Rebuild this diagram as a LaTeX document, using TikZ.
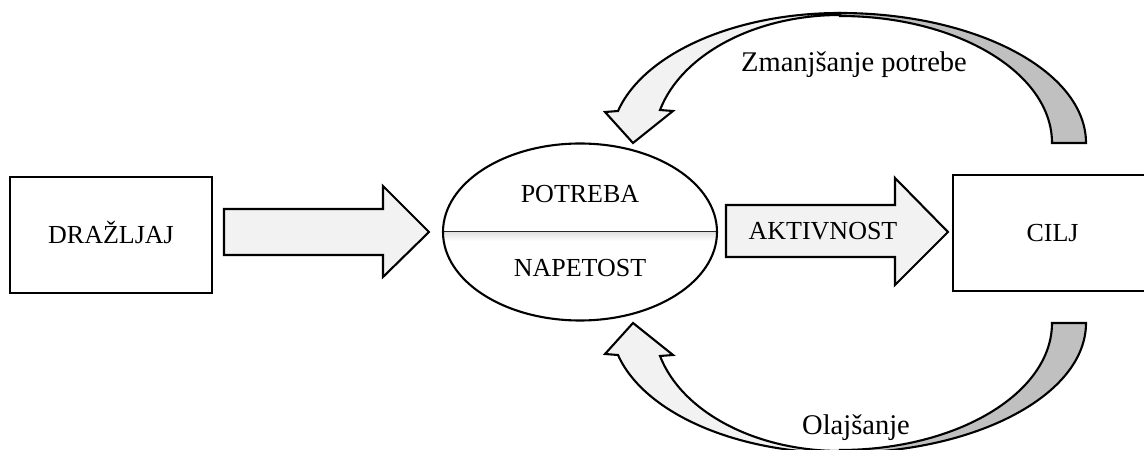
\documentclass[tikz,border=0pt]{standalone}
\usepackage{fontspec}
\setmainfont{Liberation Serif}
\usetikzlibrary{shapes.geometric}
\definecolor{lightfill}{RGB}{242,242,242}
\definecolor{darkfill}{RGB}{192,192,192}
\tikzset{
  outl/.style={draw=black, line width=2.1pt, line join=miter},
  boxnode/.style={outl, rectangle, inner sep=0pt, font=\fontsize{26}{30}\selectfont, text height=17pt, text depth=0pt},
  capstxt/.style={font=\fontsize{26}{30}\selectfont, anchor=base, inner sep=0pt},
  lowtxt/.style={font=\fontsize{28.5}{33}\selectfont, anchor=base, inner sep=0pt},
  blockarrow/.style={outl, fill=lightfill},
  frontband/.style={outl, fill=lightfill},
  backband/.style={outl, fill=darkfill}
}
\begin{document}
\begin{tikzpicture}[x=1pt,y=1pt]
\useasboundingbox (0,0) rectangle (1144,450);
\clip (0,0) rectangle (1144,450);
\fill[white] (0,0) rectangle (1144,450);

% boxes
\node[boxnode, minimum width=202pt, minimum height=116pt] (draz) at (111,215) {DRAŽLJAJ};
\node[boxnode, minimum width=199pt, minimum height=116pt] (cilj) at (1052.5,217) {CILJ};

% ellipse with divider
\node[ellipse, minimum width=274pt, minimum height=177pt, inner sep=0pt] (need) at (580,218) {};
\begin{scope}
  \clip (580,218) ellipse [x radius=137, y radius=88.5];
  \shade[top color=black!12, bottom color=white] (443,209) rectangle (717,218);
\end{scope}
\draw[black!85, line width=1pt] (need.west) -- (need.east);
\draw[outl, fill=none] (580,218) ellipse [x radius=137, y radius=88.5];
\node[capstxt] (potreba) at (580,247) {POTREBA};
\node[capstxt] (napetost) at (580,173) {NAPETOST};

% straight block arrows
\draw[blockarrow] (224,241) -- (383,241) -- (383,264) -- (429,218) -- (383,173) -- (383,195) -- (224,195) -- cycle;
\draw[blockarrow] (726,245) -- (895,245) -- (895,272) -- (948,218) -- (895,165) -- (895,193) -- (726,193) -- cycle;
\node[capstxt] (akt) at (823,210) {AKTIVNOST};

% top curved arrow
\draw[backband] (840,437) arc[start angle=90, end angle=0, x radius=246, y radius=130]
  -- (1052,307) arc[start angle=0, end angle=90, x radius=212, y radius=127] -- cycle;
\draw[frontband] (618,339) arc[start angle=165.75, end angle=90, x radius=229, y radius=130]
  -- (840,435) arc[start angle=90, end angle=165.06, x radius=186.3, y radius=128]
  -- (673,339) -- (633,307) -- (605,338) -- cycle;

% bottom curved arrow
\draw[backband] (840,-3) arc[start angle=-90, end angle=0, x radius=246, y radius=130]
  -- (1052,127) arc[start angle=0, end angle=-90, x radius=212, y radius=127] -- cycle;
\draw[frontband] (618,95) arc[start angle=-165.75, end angle=-90, x radius=229, y radius=130]
  -- (840,-1) arc[start angle=-90, end angle=-165.06, x radius=186.3, y radius=128]
  -- (673,95) -- (633,127) -- (605,96) -- cycle;

\node[lowtxt] (zman) at (854,378) {Zmanjšanje potrebe};
\node[lowtxt] (olaj) at (856,15) {Olajšanje};
\end{tikzpicture}
\end{document}
